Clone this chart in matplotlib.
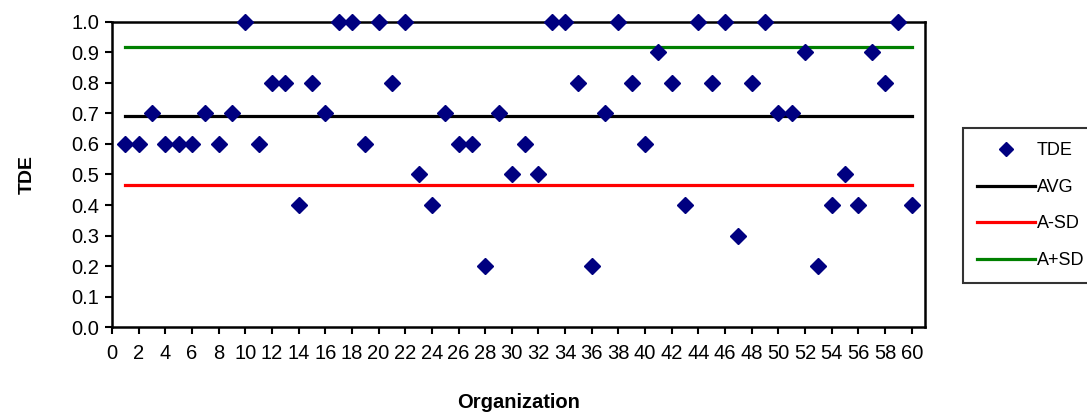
import matplotlib
matplotlib.use("Agg")
import matplotlib.pyplot as plt
from matplotlib.lines import Line2D

plt.rcParams['font.family'] = ['Liberation Sans', 'DejaVu Sans']

organizations = list(range(1, 61))
tde = [0.6, 0.6, 0.7, 0.6, 0.6, 0.6, 0.7, 0.6, 0.7, 1.0,
       0.6, 0.8, 0.8, 0.4, 0.8, 0.7, 1.0, 1.0, 0.6, 1.0,
       0.8, 1.0, 0.5, 0.4, 0.7, 0.6, 0.6, 0.2, 0.7, 0.5,
       0.6, 0.5, 1.0, 1.0, 0.8, 0.2, 0.7, 1.0, 0.8, 0.6,
       0.9, 0.8, 0.4, 1.0, 0.8, 1.0, 0.3, 0.8, 1.0, 0.7,
       0.7, 0.9, 0.2, 0.4, 0.5, 0.4, 0.9, 0.8, 1.0, 0.4]
avg_level = 0.692
minus_sd_level = 0.466
plus_sd_level = 0.918

x_ticks = list(range(0, 61, 2))
y_ticks = [0.0, 0.1, 0.2, 0.3, 0.4, 0.5, 0.6, 0.7, 0.8, 0.9, 1.0]

fig = plt.figure(figsize=(10.87, 4.12), dpi=100)
ax = fig.add_axes([0.103, 0.206, 0.748, 0.741])

x0, x1 = organizations[0], organizations[-1]
ax.plot([x0, x1], [avg_level] * 2, color='black', lw=2.3, zorder=2)
ax.plot([x0, x1], [minus_sd_level] * 2, color='#ff0000', lw=2.3, zorder=2)
ax.plot([x0, x1], [plus_sd_level] * 2, color='#008000', lw=2.3, zorder=2)
ax.plot(organizations, tde, linestyle='none', marker='D', markersize=8.5,
        color='#000080', zorder=3, clip_on=False)

ax.set_xlim(0, 61)
ax.set_ylim(0, 1.0)
ax.set_xticks(x_ticks)
ax.set_xticklabels([str(t) for t in x_ticks])
ax.set_yticks(y_ticks)
ax.set_yticklabels([f"{t:.1f}" for t in y_ticks])
ax.tick_params(axis='both', direction='out', length=5, width=1.5,
               labelsize=14.5, pad=4)
ax.tick_params(axis='x', pad=7)
for s in ax.spines.values():
    s.set_linewidth(1.8)

ax.set_xlabel('Organization', fontsize=14.5, fontweight='bold', labelpad=22)
ax.set_ylabel('TDE', fontsize=14, fontweight='bold', labelpad=26)

handles = [
    Line2D([], [], linestyle='none', marker='D', markersize=7.5, color='#000080'),
    Line2D([], [], color='black', lw=2.3),
    Line2D([], [], color='#ff0000', lw=2.3),
    Line2D([], [], color='#008000', lw=2.3),
]
leg = fig.legend(handles, ['TDE', 'AVG', 'A-SD', 'A+SD'],
                 loc='upper left', bbox_to_anchor=(963 / 1087, 1 - 128 / 412),
                 fontsize=13, frameon=True, fancybox=False, edgecolor='black',
                 handlelength=3.2, handletextpad=0.1, labelspacing=1.08,
                 borderpad=0.8, borderaxespad=0)
leg.get_frame().set_linewidth(1.5)

fig.savefig('out.png', dpi=100)
